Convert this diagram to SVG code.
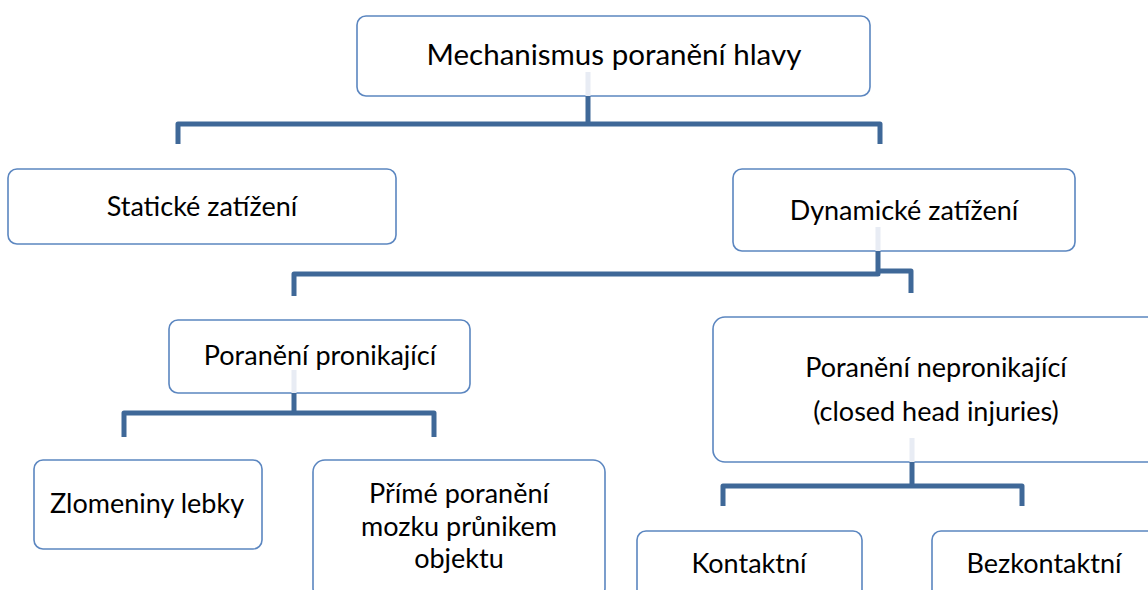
<svg xmlns="http://www.w3.org/2000/svg" width="1148" height="590" viewBox="0 0 1148 590">
<style>
.box{fill:#fff;stroke:#5B86C0;stroke-width:1.6}
.t{font-family:Lato,"Liberation Sans",sans-serif;fill:#000;text-anchor:middle;font-size:27px}
.c{fill:none;stroke:#3F6898;stroke-width:5;stroke-linejoin:round}
.ghost{fill:#E8ECF4}
</style>
<rect width="1148" height="590" fill="#fff"/>
<g id="root"><rect class="box" x="357" y="16" width="513" height="80" rx="9"/><text class="t" x="614" y="65" style="font-size:29.5px">Mechanismus poranění hlavy</text></g>
<g id="staticke"><rect class="box" x="8" y="169" width="388" height="75" rx="9"/><text class="t" x="202" y="216">Statické zatížení</text></g>
<g id="dynamicke"><rect class="box" x="733" y="169" width="342" height="82" rx="9"/><text class="t" x="904" y="220">Dynamické zatížení</text></g>
<g id="pronikajici"><rect class="box" x="169" y="320" width="301" height="73" rx="9"/><text class="t" x="320" y="365">Poranění pronikající</text></g>
<g id="nepronikajici"><rect class="box" x="713" y="317" width="450" height="145" rx="12"/><text class="t" x="936" y="377">Poranění nepronikající</text><text class="t" x="936" y="421">(closed head injuries)</text></g>
<g id="zlomeniny"><rect class="box" x="34" y="460" width="228" height="89" rx="9"/><text class="t" x="147" y="513">Zlomeniny lebky</text></g>
<g id="prime"><rect class="box" x="313" y="460" width="292" height="140" rx="12"/><text class="t" x="459" y="503">Přímé poranění</text><text class="t" x="459" y="536">mozku průnikem</text><text class="t" x="459" y="568">objektu</text></g>
<g id="kontaktni"><rect class="box" x="637" y="531" width="225" height="80" rx="9"/><text class="t" x="749" y="573">Kontaktní</text></g>
<g id="bezkontaktni"><rect class="box" x="932" y="531" width="230" height="80" rx="9"/><text class="t" x="1044" y="573">Bezkontaktní</text></g>
<g id="connectors">
<rect class="ghost" x="585.5" y="72" width="5" height="24"/>
<rect class="ghost" x="875.5" y="227" width="5" height="24"/>
<rect class="ghost" x="291.5" y="370" width="5" height="23"/>
<rect class="ghost" x="909.5" y="438" width="5" height="24"/>
<path class="c" d="M588,96 V124 M178,144 V124 H880 V144"/>
<path class="c" d="M878,251 V274 H294 V296 M878,271 H911 V293"/>
<path class="c" d="M294,393 V413 M124,437 V413 H434 V437"/>
<path class="c" d="M912,462 V486 M723,506 V486 H1022 V506"/>
</g>
</svg>
